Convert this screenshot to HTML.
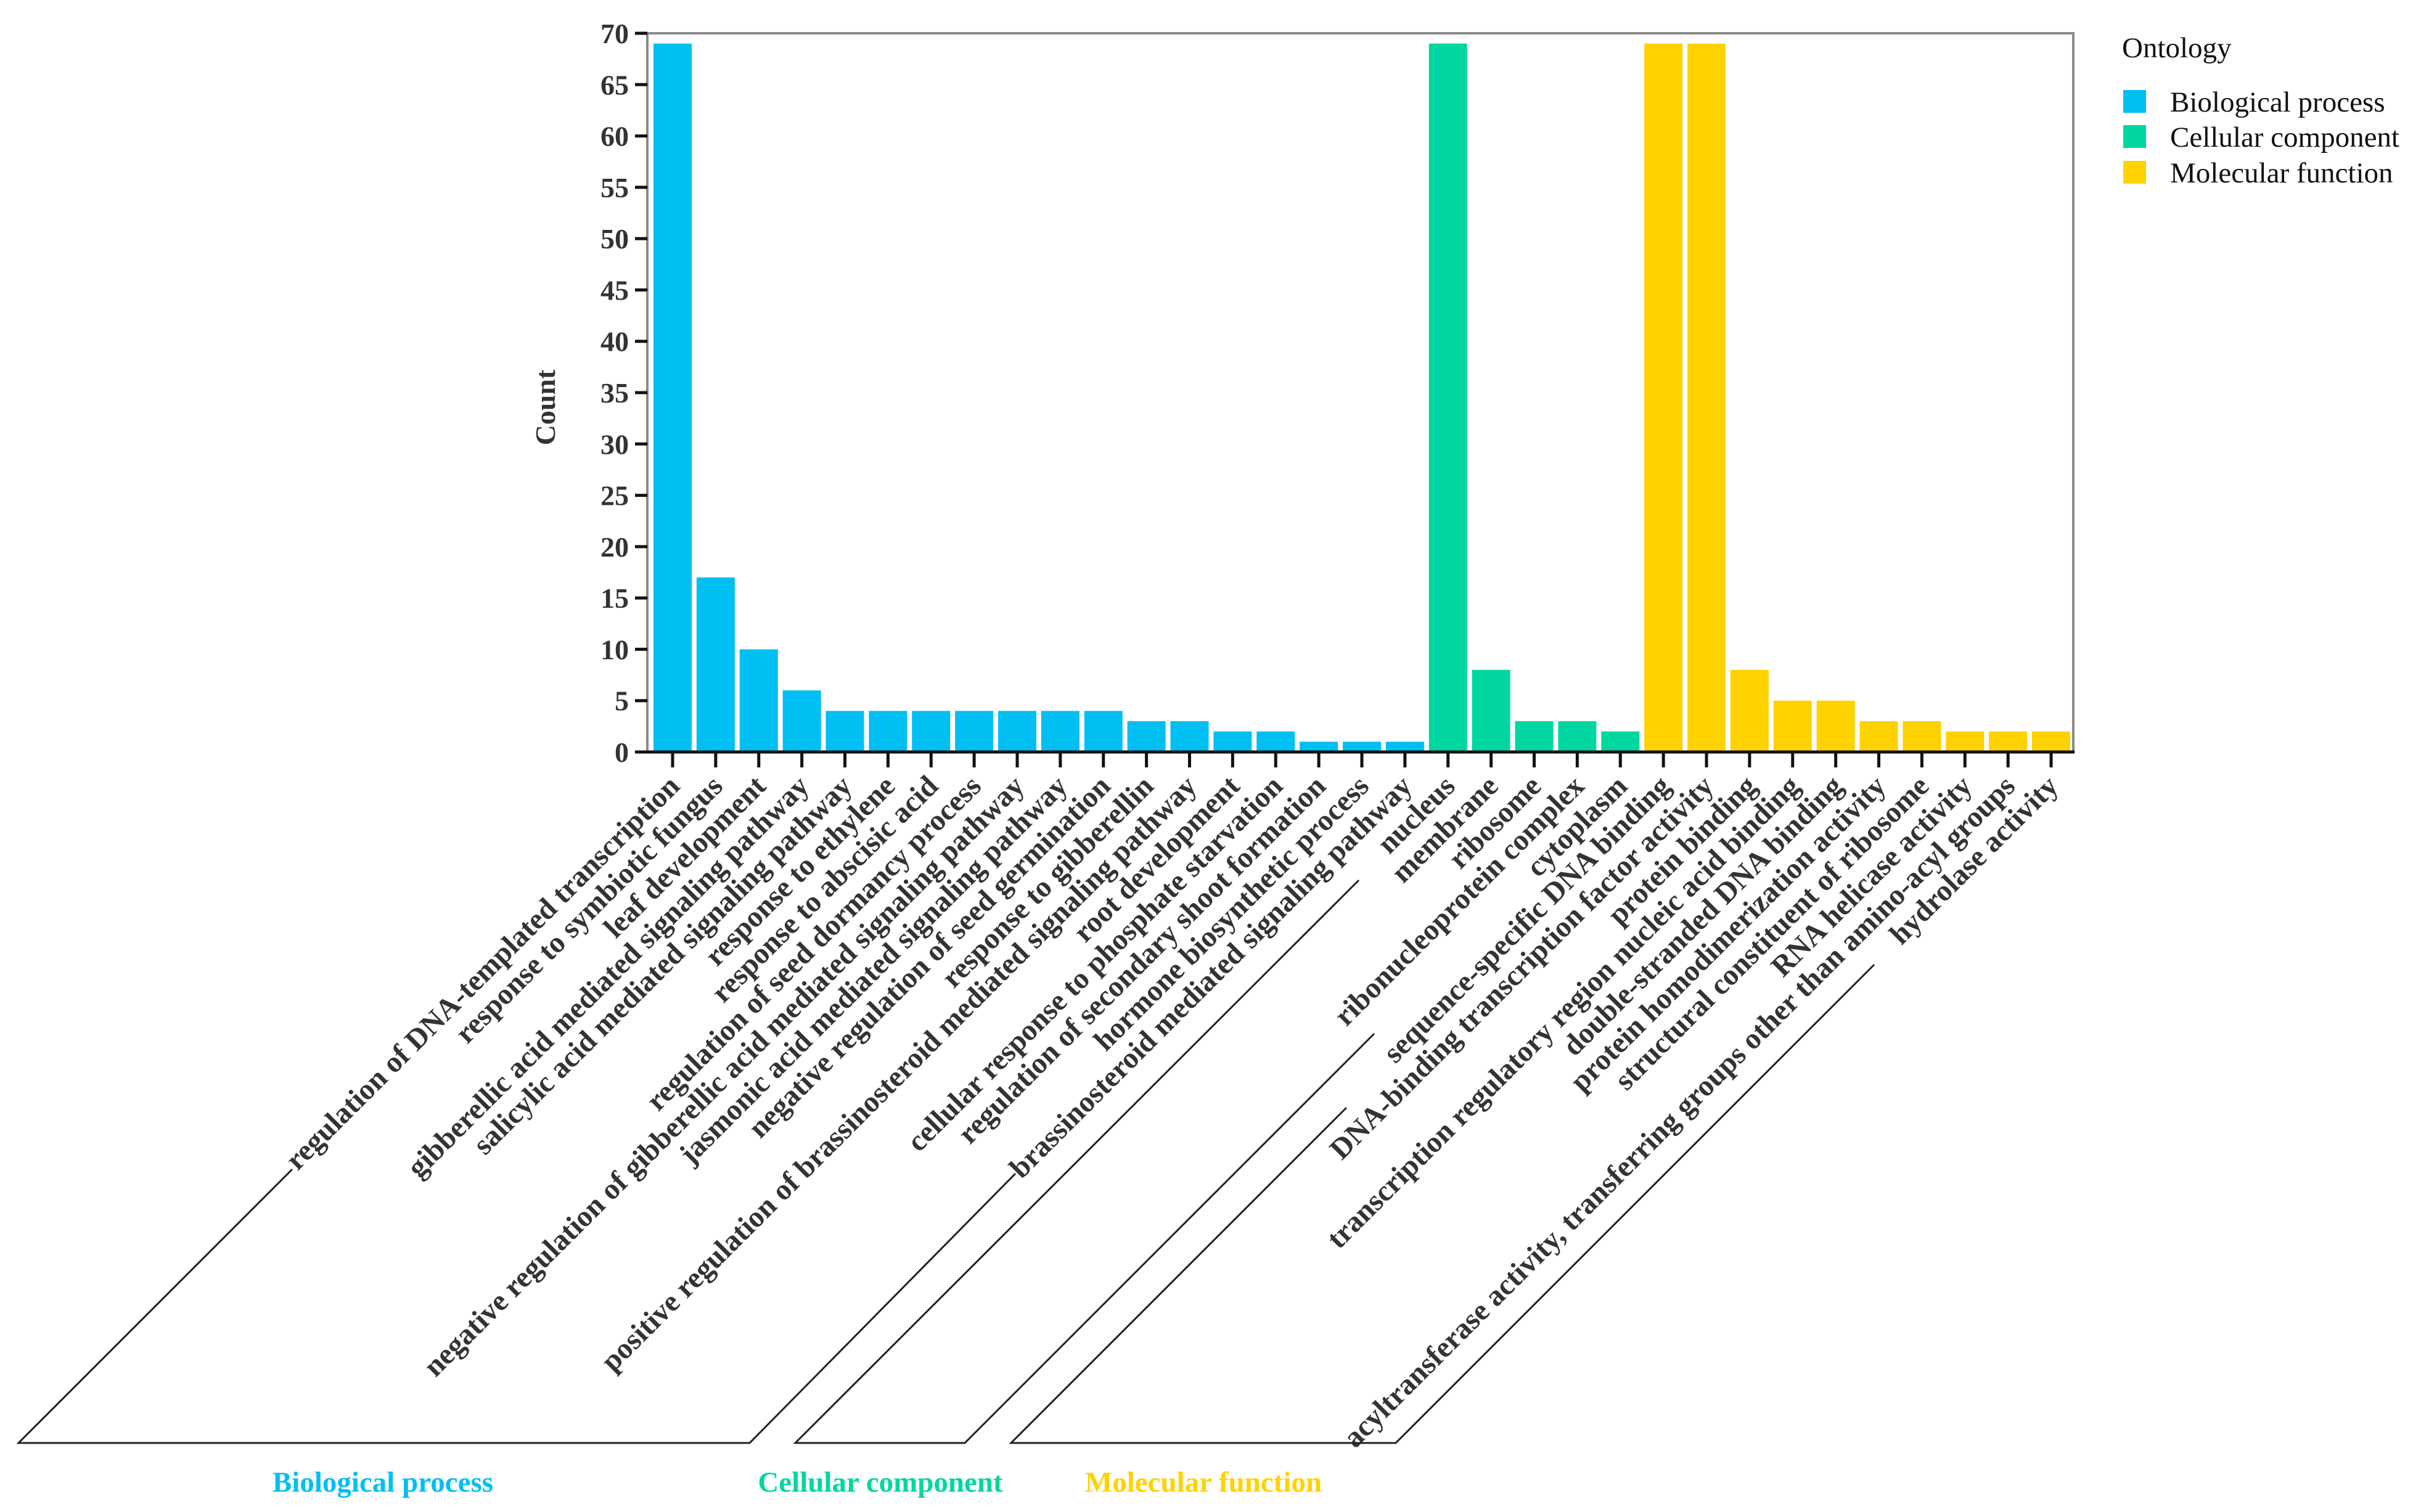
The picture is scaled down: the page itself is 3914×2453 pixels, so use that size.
<!DOCTYPE html>
<html><head><meta charset="utf-8">
<style>
html,body{margin:0;padding:0;background:#fff;}
svg{display:block;font-family:"Liberation Serif",serif;}
</style></head>
<body>
<svg id="chart" width="3914" height="2453" viewBox="0 0 3914 2453" xmlns="http://www.w3.org/2000/svg">
  <rect x="0" y="0" width="3914" height="2453" fill="#fff"/>
  <g id="bars"></g>
  <g id="axes"></g>
  <g id="xlabels"></g>
  <text x="0" y="0" transform="translate(900,661) rotate(-90)" text-anchor="middle" font-size="46" font-weight="bold" fill="#333">Count</text>
  <g fill="none" stroke="#222" stroke-width="3">
    <polyline points="474,1897 30,2341 1216,2341 1647,1904"/>
    <polyline points="2204,1428 1290,2341 1565,2341 2229,1677"/>
    <polyline points="2184,1797 1640,2341 2264,2341 3040,1565"/>
  </g>
  <text x="621" y="2420" text-anchor="middle" font-size="47" font-weight="bold" fill="#00BFF3">Biological process</text>
  <text x="1428" y="2420" text-anchor="middle" font-size="47" font-weight="bold" fill="#00D7A0">Cellular component</text>
  <text x="1952" y="2420" text-anchor="middle" font-size="47" font-weight="bold" fill="#FFD200">Molecular function</text>
  <g>
    <text x="3442" y="93" font-size="47" fill="#111">Ontology</text>
    <rect x="3444" y="146" width="37" height="37" fill="#00BFF3"/>
    <text x="3520" y="181" font-size="47" fill="#111">Biological process</text>
    <rect x="3444" y="203" width="37" height="37" fill="#00D7A0"/>
    <text x="3520" y="238" font-size="47" fill="#111">Cellular component</text>
    <rect x="3444" y="261" width="37" height="37" fill="#FFD200"/>
    <text x="3520" y="296" font-size="47" fill="#111">Molecular function</text>
  </g>
</svg>
<script>
const categories = ["regulation of DNA-templated transcription","response to symbiotic fungus","leaf development","gibberellic acid mediated signaling pathway","salicylic acid mediated signaling pathway","response to ethylene","response to abscisic acid","regulation of seed dormancy process","negative regulation of gibberellic acid mediated signaling pathway","jasmonic acid mediated signaling pathway","negative regulation of seed germination","response to gibberellin","positive regulation of brassinosteroid mediated signaling pathway","root development","cellular response to phosphate starvation","regulation of secondary shoot formation","hormone biosynthetic process","brassinosteroid mediated signaling pathway","nucleus","membrane","ribosome","ribonucleoprotein complex","cytoplasm","sequence-specific DNA binding","DNA-binding transcription factor activity","protein binding","transcription regulatory region nucleic acid binding","double-stranded DNA binding","protein homodimerization activity","structural constituent of ribosome","RNA helicase activity","acyltransferase activity, transferring groups other than amino-acyl groups","hydrolase activity"];
const counts = [69,17,10,6,4,4,4,4,4,4,4,3,3,2,2,1,1,1,69,8,3,3,2,69,69,8,5,5,3,3,2,2,2];
const ontology = ["BP","BP","BP","BP","BP","BP","BP","BP","BP","BP","BP","BP","BP","BP","BP","BP","BP","BP","CC","CC","CC","CC","CC","MF","MF","MF","MF","MF","MF","MF","MF","MF","MF"];
const yTicks = [0,5,10,15,20,25,30,35,40,45,50,55,60,65,70];

const NS="http://www.w3.org/2000/svg";
const colors={BP:"#00BFF3",CC:"#00D7A0",MF:"#FFD200"};
const X0=1050,X1=3363,Y0=1220,Y1=54,YMAX=70;
const y=v=>Y0-(v/YMAX)*(Y0-Y1);
const step=(3327-1091)/32;
const xc=i=>1091+i*step;
const BW=62;
function mk(tag,attrs,parent){const e=document.createElementNS(NS,tag);for(const k in attrs)e.setAttribute(k,attrs[k]);parent.appendChild(e);return e;}
const gb=document.getElementById('bars'),ga=document.getElementById('axes'),gl=document.getElementById('xlabels');
counts.forEach((v,i)=>{
  const r=mk('rect',{x:xc(i)-BW/2,y:y(v),width:BW,height:Y0-y(v),fill:colors[ontology[i]]},gb);
  
  
});
const fr=mk('polyline',{points:`${X0},${Y0} ${X0},${Y1} ${X1},${Y1} ${X1},${Y0}`,fill:'none',stroke:'#8a8a8a','stroke-width':4},ga);


const xa=mk('line',{x1:1030,y1:Y0,x2:X1+2,y2:Y0,stroke:'#111','stroke-width':5},ga);


yTicks.forEach(t=>{
  const l=mk('line',{x1:1030,y1:y(t),x2:X0,y2:y(t),stroke:'#111','stroke-width':5},ga);
  
  
  const tx=mk('text',{x:1020,y:y(t)+16,'text-anchor':'end','font-size':46,'font-weight':'bold',fill:'#333'},ga);
  tx.textContent=t;
  
  
});
categories.forEach((c,i)=>{
  const l=mk('line',{x1:xc(i),y1:Y0,x2:xc(i),y2:Y0+25,stroke:'#111','stroke-width':5},ga);
  
  
  const px=xc(i)+14,py=1278;
  const tx=mk('text',{x:px,y:py,transform:`rotate(-45 ${px} ${py})`,'text-anchor':'end','font-size':48,'font-weight':'bold',fill:'#333'},gl);
  tx.textContent=c;
  
  
});
</script>
</body></html>
